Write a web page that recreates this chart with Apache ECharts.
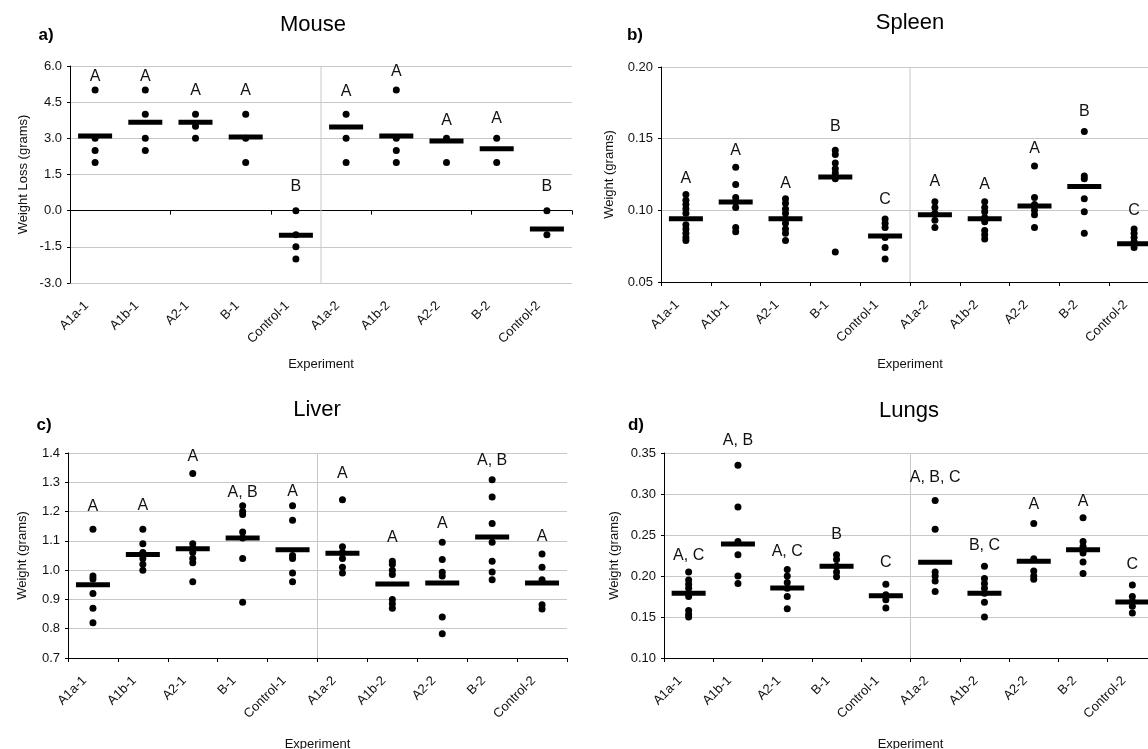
<!DOCTYPE html>
<html><head><meta charset="utf-8">
<script src="https://cdn.jsdelivr.net/npm/echarts@6/dist/echarts.min.js"></script>
<style>html,body{margin:0;padding:0;background:#fff}#c{width:1148px;height:749px}</style>
</head><body><div id="c"></div>
<script>
const categories = ['A1a-1','A1b-1','A2-1','B-1','Control-1','A1a-2','A1b-2','A2-2','B-2','Control-2'];

const mousePoints = [[5,3,2.5,2],[5,4,3,2.5],[4,3.5,3],[4,3,2],[0,-1,-1.5,-2],[4,3,2],[5,3,2.5,2],[3,2],[3,2],[0,-1]];
const mouseMeans = [3.1,3.67,3.67,3.06,-1.02,3.47,3.1,2.89,2.57,-0.76];
const mouseLetters = ['A','A','A','A','B','A','A','A','A','B'];
const mouseLetterY = [5.55,5.55,5.0,5.0,1.0,4.93,5.75,3.72,3.82,1.0];

const spleenPoints = [
  [0.111,0.107,0.104,0.101,0.098,0.090,0.087,0.084,0.081,0.079],
  [0.130,0.118,0.109,0.106,0.102,0.088,0.085],
  [0.108,0.105,0.101,0.098,0.094,0.091,0.087,0.084,0.079],
  [0.142,0.139,0.133,0.129,0.126,0.122,0.071],
  [0.094,0.091,0.088,0.081,0.074,0.066],
  [0.106,0.102,0.098,0.093,0.088],
  [0.106,0.102,0.099,0.095,0.092,0.086,0.083,0.080],
  [0.131,0.109,0.104,0.100,0.097,0.088],
  [0.155,0.124,0.122,0.108,0.099,0.084],
  [0.087,0.084,0.081,0.078,0.074]
];
const spleenMeans = [0.0942,0.1058,0.0942,0.1233,0.0821,0.097,0.0942,0.103,0.1167,0.0767];
const spleenLetters = ['A','A','A','B','C','A','A','A','B','C'];
const spleenLetterY = [0.122,0.142,0.119,0.1586,0.1074,0.1198,0.118,0.143,0.169,0.100];

const liverPoints = [
  [1.14,0.98,0.97,0.92,0.87,0.82],
  [1.14,1.09,1.06,1.04,1.02,1.00],
  [1.33,1.09,1.075,1.06,1.04,1.025,0.96],
  [1.22,1.20,1.19,1.13,1.11,1.04,0.89],
  [1.22,1.17,1.05,1.04,0.99,0.96],
  [1.24,1.08,1.06,1.04,1.01,0.99],
  [1.03,1.02,1.0,0.985,0.90,0.885,0.87],
  [1.095,1.036,0.993,0.98,0.84,0.783],
  [1.309,1.25,1.159,1.095,1.03,0.994,0.967],
  [1.055,1.01,0.967,0.882,0.867]
];
const liverMeans = [0.95,1.053,1.073,1.11,1.07,1.058,0.953,0.956,1.113,0.956];
const liverLetters = ['A','A','A','A, B','A','A','A','A','A, B','A'];
const liverLetterY = [1.216,1.22,1.389,1.266,1.269,1.329,1.11,1.158,1.374,1.113];

const lungsPoints = [
  [0.205,0.195,0.19,0.185,0.175,0.158,0.153,0.15],
  [0.335,0.284,0.242,0.226,0.20,0.191],
  [0.208,0.20,0.192,0.185,0.175,0.16],
  [0.226,0.22,0.212,0.205,0.199],
  [0.19,0.177,0.171,0.161],
  [0.292,0.257,0.205,0.2,0.194,0.181],
  [0.212,0.197,0.191,0.185,0.179,0.168,0.15],
  [0.264,0.221,0.206,0.2,0.196],
  [0.271,0.242,0.236,0.228,0.217,0.203],
  [0.189,0.175,0.169,0.163,0.155]
];
const lungsMeans = [0.179,0.239,0.1854,0.2118,0.176,0.2167,0.179,0.2179,0.2321,0.1683];
const lungsLetters = ['A, C','A, B','A, C','B','C','A, B, C','B, C','A','A','C'];
const lungsLetterY = [0.2248,0.3654,0.230,0.2504,0.2167,0.3195,0.237,0.287,0.291,0.2138];

const yTicks = {
  mouse: {min:-3, max:6, step:1.5, dec:1},
  spleen: {min:0.05, max:0.20, step:0.05, dec:2},
  liver: {min:0.7, max:1.4, step:0.1, dec:1},
  lungs: {min:0.10, max:0.35, step:0.05, dec:2}
};

const FONT = 'Liberation Sans, Arial, sans-serif';
const panels = [
  {key:'mouse', pts:mousePoints, means:mouseMeans, letters:mouseLetters, letterY:mouseLetterY,
   grid:{left:70, top:66, right:576, bottom:466}, yname:'Weight Loss (grams)', yGap:40, xGap:75, onZero:true},
  {key:'spleen', pts:spleenPoints, means:spleenMeans, letters:spleenLetters, letterY:spleenLetterY,
   grid:{left:661, top:67, right:-11, bottom:467}, yname:'Weight (grams)', yGap:45, xGap:76, onZero:false},
  {key:'liver', pts:liverPoints, means:liverMeans, letters:liverLetters, letterY:liverLetterY,
   grid:{left:68, top:453, right:581, bottom:91}, yname:'Weight (grams)', yGap:39, xGap:80, onZero:false},
  {key:'lungs', pts:lungsPoints, means:lungsMeans, letters:lungsLetters, letterY:lungsLetterY,
   grid:{left:664, top:453, right:-9, bottom:91}, yname:'Weight (grams)', yGap:43, xGap:80, onZero:false}
];

const splitIndex = categories.findIndex(c => c.endsWith('-2'));
const grids = [], xAxes = [], yAxes = [], series = [];

panels.forEach((p, gi) => {
  const t = yTicks[p.key];
  grids.push(Object.assign({containLabel:false, outerBoundsMode:'none'}, p.grid));
  yAxes.push({
    type:'value', gridIndex:gi, min:t.min, max:t.max, interval:t.step,
    axisLine:{show:true, onZero:false, lineStyle:{color:'#000', width:1}},
    axisTick:{show:true, length:3, lineStyle:{color:'#000'}},
    axisLabel:{formatter:v => v.toFixed(t.dec), fontSize:13, color:'#111', margin:8, fontFamily:FONT},
    splitLine:{show:true, lineStyle:{color:'#c8c8c8', width:1}},
    name:p.yname, nameLocation:'middle', nameGap:p.yGap,
    nameTextStyle:{fontSize:13, color:'#111', fontFamily:FONT}
  });
  const xLabelIdx = xAxes.length;
  xAxes.push({
    type:'category', gridIndex:gi, data:categories, position:'bottom', boundaryGap:true,
    axisLine:{show:!p.onZero, onZero:false, lineStyle:{color:'#000', width:1}},
    axisTick:{show:!p.onZero, length:4, lineStyle:{color:'#000'}},
    axisLabel:{rotate:45, interval:0, margin:12, fontSize:13, color:'#111', fontFamily:FONT, padding:[0,12,0,0]},
    splitLine:{show:false},
    name:'Experiment', nameLocation:'middle', nameGap:p.xGap,
    nameTextStyle:{fontSize:13, color:'#111', fontFamily:FONT}
  });
  if (p.onZero) {
    xAxes.push({
      type:'category', gridIndex:gi, data:categories, position:'bottom', boundaryGap:true,
      axisLine:{show:true, onZero:true, onZeroAxisIndex:gi, lineStyle:{color:'#000', width:1}},
      axisTick:{show:true, length:4, lineStyle:{color:'#000'}},
      axisLabel:{show:false}, splitLine:{show:false}
    });
  }
  const hiddenIdx = xAxes.length;
  xAxes.push({type:'value', gridIndex:gi, min:0, max:categories.length, show:false, splitLine:{show:false}});

  series.push({
    type:'line', xAxisIndex:hiddenIdx, yAxisIndex:gi, silent:true, symbol:'none', z:1,
    lineStyle:{color:'#c8c8c8', width:1},
    data:[[splitIndex, t.min],[splitIndex, t.max]]
  });
  const dots = [];
  p.pts.forEach((arr, i) => arr.forEach(v => dots.push([i, v])));
  series.push({
    type:'scatter', xAxisIndex:xLabelIdx, yAxisIndex:gi, symbol:'circle', symbolSize:7,
    itemStyle:{color:'#000', opacity:1}, data:dots, z:3
  });
  series.push({
    type:'scatter', xAxisIndex:xLabelIdx, yAxisIndex:gi, symbol:'rect', symbolSize:[34,5],
    itemStyle:{color:'#000', opacity:1}, data:p.means.map((m, i) => [i, m]), z:4
  });
  series.push({
    type:'scatter', xAxisIndex:xLabelIdx, yAxisIndex:gi, symbolSize:1, clip:false, silent:true,
    itemStyle:{color:'rgba(0,0,0,0)', opacity:1},
    label:{show:true, position:'inside', formatter:d => d.name, fontSize:16, color:'#111', opacity:1, fontFamily:FONT},
    data:p.letters.map((l, i) => ({name:l, value:[i, p.letterY[i]]})), z:5
  });
});

const txt = (text, x, y, size, bold) => ({
  type:'text', x, y, silent:true,
  style:{text, fill:'#000', font:(bold?'bold ':'') + size + 'px ' + FONT,
         align:'center', verticalAlign:'middle', textAlign:'center', textVerticalAlign:'middle'}
});

const chart = echarts.init(document.getElementById('c'));
chart.setOption({
  backgroundColor:'#fff',
  animation:false,
  grid:grids, xAxis:xAxes, yAxis:yAxes, series,
  graphic:[
    txt('Mouse', 313, 25, 22, false), txt('Spleen', 910, 23, 22, false),
    txt('Liver', 317, 410, 22, false), txt('Lungs', 909, 411, 22, false),
    txt('a)', 46, 35, 17, true), txt('b)', 635, 35, 17, true),
    txt('c)', 44, 425, 17, true), txt('d)', 636, 425, 17, true)
  ]
});
</script></body></html>
